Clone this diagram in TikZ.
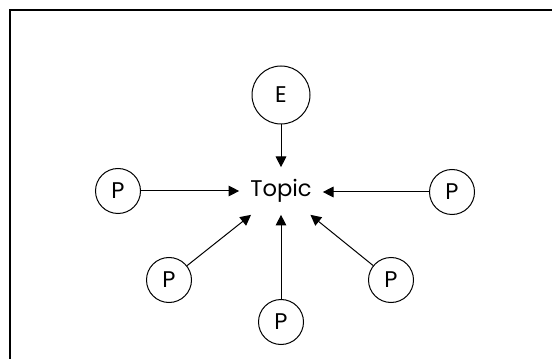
\documentclass[tikz,border=0pt]{standalone}
\usepackage{fontspec}
\setmainfont{Poppins}
\usetikzlibrary{arrows.meta}

\tikzset{every picture/.style={line width=0.75pt}}
\tikzset{
	part/.style={draw, circle, inner sep=0pt, minimum size=33.75pt},
	feed/.style={-{Triangle[length=8pt,width=8pt]}},
}

\begin{document}
\begin{tikzpicture}[x=0.75pt,y=0.75pt,yscale=-1,xscale=1,font=\fontsize{17}{20}\selectfont]
	\useasboundingbox (0,0) rectangle (552,359);

	%Straight Lines: frame
	\draw [line width=1.5]    (10,359) -- (10,10) -- (552,10) ;

	% Text Node
	\node [minimum width=62pt, minimum height=35pt, inner sep=0pt] (topic) at (281,191) {Topic};

	%Shape: Circle
	\node [part, minimum size=43.5pt] (e) at (281,95) {E};
	%Shape: Circle
	\node [part] (pl) at (118,191) {P};
	%Shape: Circle
	\node [part] (pr) at (452,192) {P};
	%Shape: Circle
	\node [part] (pbl) at (169,280) {P};
	%Shape: Circle
	\node [part] (pbr) at (391,280) {P};
	%Shape: Circle
	\node [part] (pb) at (281,322) {P};

	%Straight Lines
	\draw [feed]    (e) -- (topic) ;
	\draw [feed]    (pl) -- (topic.west |- pl) ;
	\draw [feed]    (pr) -- (topic.east |- pr) ;
	\draw [feed]    (pbl) -- (topic) ;
	\draw [feed]    (pbr) -- (topic) ;
	\draw [feed]    (pb) -- (topic) ;

\end{tikzpicture}
\end{document}
